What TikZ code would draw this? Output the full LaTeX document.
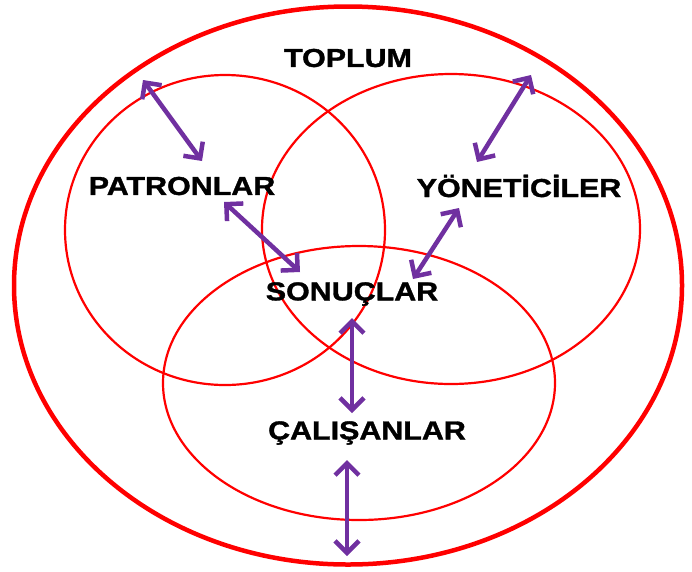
\documentclass[tikz,border=0pt]{standalone}
\usepackage{fontspec}
\setmainfont{Liberation Sans}
\newfontfamily\lblfont[FakeBold=1.2]{Liberation Sans Bold}
\usetikzlibrary{arrows.meta}
\definecolor{vred}{HTML}{FF0000}
\definecolor{vpurple}{HTML}{7030A0}
\tikzset{
  outerring/.style={draw=vred, line width=4.5pt},
  ring/.style={draw=vred, line width=2.2pt},
  lbl/.style={font=\fontsize{26}{30}\selectfont\lblfont, inner sep=0pt, anchor=center},
  link/.style={draw=vpurple, line width=4.5pt,
    {Straight Barb[length=12pt,width=24pt,line width=4.5pt]}-{Straight Barb[length=12pt,width=24pt,line width=4.5pt]}}
}
\newcommand{\wide}[1]{\scalebox{1.17}[1]{#1}}
\begin{document}
\begin{tikzpicture}[x=1pt,y=-1pt]
\useasboundingbox (0,0) rectangle (692,571);
% ellipses
\draw[outerring] (348,285.5) ellipse [x radius=334, y radius=279];
\draw[ring] (225,230) ellipse [x radius=160, y radius=155];
\draw[ring] (451,229) ellipse [x radius=189, y radius=155];
\draw[ring] (359,383) ellipse [x radius=196, y radius=137];
% labels
\node[lbl] (toplum) at (348,58) {\wide{TOPLUM}};
\node[lbl] (patron) at (182,186) {\wide{PATRONLAR}};
\node[lbl] (yonet) at (519,186) {\wide{YÖNETİCİLER}};
\node[lbl] (sonuc) at (352,294) {\wide{SONUÇLAR}};
\node[lbl] (calis) at (367,433) {\wide{ÇALIŞANLAR}};
% arrow end points
\coordinate (a1) at (143,80);  \coordinate (b1) at (202,161);
\coordinate (a2) at (531,75);  \coordinate (b2) at (477,162);
\coordinate (a3) at (224,202); \coordinate (b3) at (300,272);
\coordinate (a4) at (459,208); \coordinate (b4) at (413,279);
\coordinate (a5) at (352,318); \coordinate (b5) at (352,413);
\coordinate (a6) at (347,460); \coordinate (b6) at (347,556);
\draw[link] (a1) -- (b1);
\draw[link] (a2) -- (b2);
\draw[link] (a3) -- (b3);
\draw[link] (a4) -- (b4);
\draw[link] (a5) -- (b5);
\draw[link] (a6) -- (b6);
\end{tikzpicture}
\end{document}
